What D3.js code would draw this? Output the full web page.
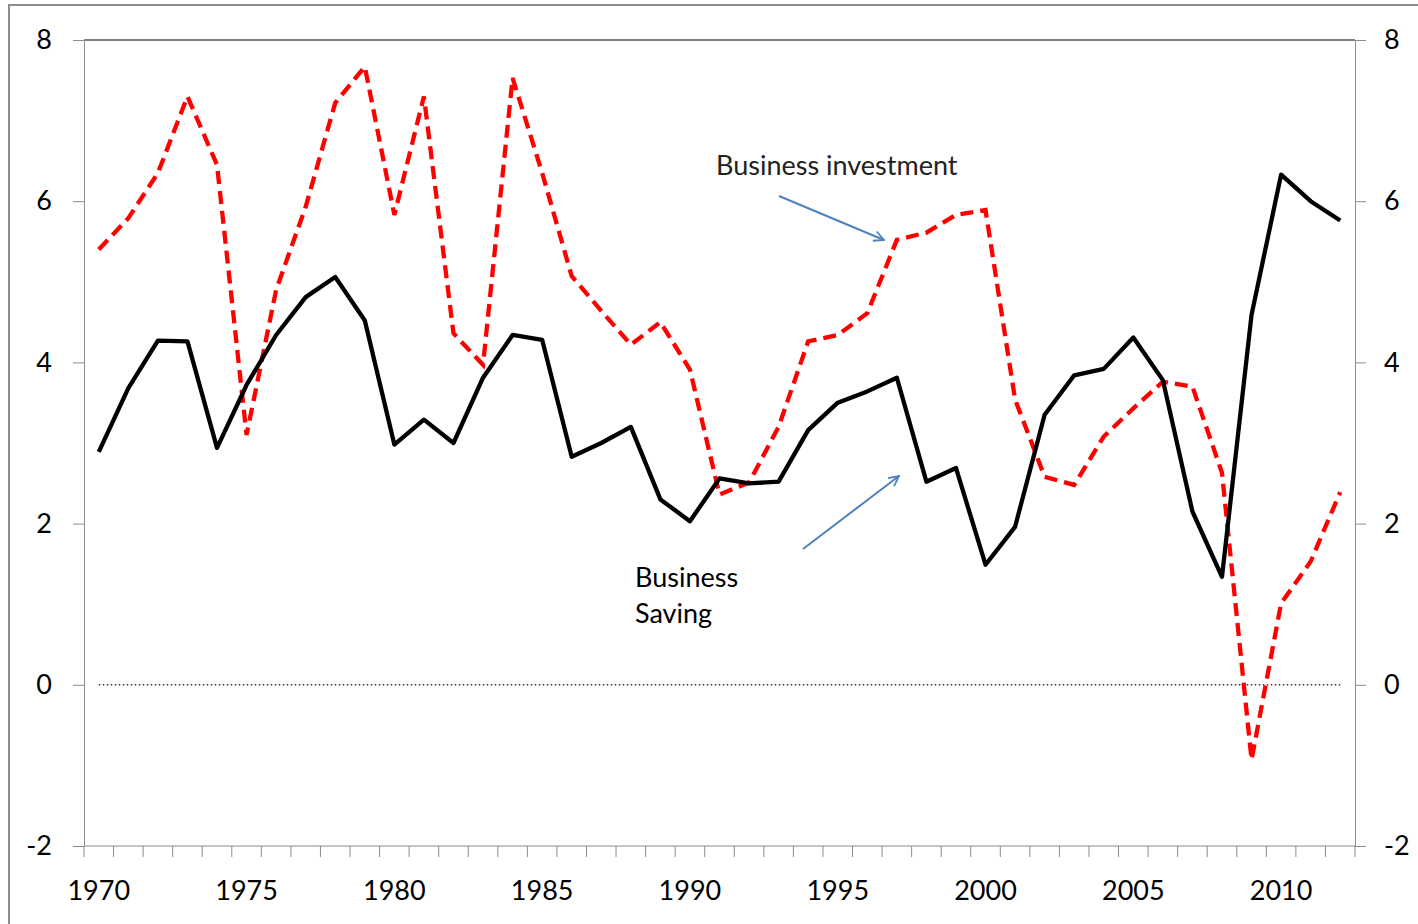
<!DOCTYPE html>
<html lang="en">
<head>
<meta charset="UTF-8">
<title>Business saving and investment</title>
<script src="https://cdn.jsdelivr.net/npm/d3@7"></script>
<style>
  body { margin: 0; background: #fff; }
  svg text { font-family: Lato, "Open Sans", sans-serif; }
</style>
</head>
<body>
<script>
    const years = d3.range(1970, 2013)
    const saving = [2.89, 3.68, 4.27, 4.26, 2.94, 3.72, 4.34, 4.81, 5.06, 4.52,
                    2.98, 3.29, 3.00, 3.81, 4.34, 4.28, 2.83, 3.00, 3.20, 2.30,
                    2.03, 2.56, 2.50, 2.52, 3.16, 3.50, 3.64, 3.81, 2.52, 2.69,
                    1.49, 1.96, 3.35, 3.84, 3.92, 4.31, 3.78, 2.15, 1.34, 4.59,
                    6.33, 6.00, 5.76]
    const investment = [5.40, 5.79, 6.35, 7.30, 6.45, 3.10, 4.90, 5.93, 7.22, 7.67,
                        5.83, 7.30, 4.36, 3.97, 7.53, 6.35, 5.07, 4.64, 4.22, 4.50,
                        3.91, 2.36, 2.51, 3.20, 4.26, 4.34, 4.61, 5.52, 5.61, 5.83,
                        5.89, 3.54, 2.58, 2.48, 3.08, 3.43, 3.76, 3.70, 2.63, -0.93,
                        1.01, 1.53, 2.39]
    const yTicks = [-2, 0, 2, 4, 6, 8]
    const xLabels = [1970, 1975, 1980, 1985, 1990, 1995, 2000, 2005, 2010]

    const width = 1418
    const height = 924
    const margin = { top: 40, right: 63, bottom: 78, left: 84 }

    const svg = d3.select('body').append('svg')
        .attr('width', width)
        .attr('height', height)

    // outer chart frame
    svg.append('rect')
        .attr('x', 9).attr('y', 5)
        .attr('width', width + 20).attr('height', height + 20)
        .attr('fill', 'none')
        .attr('stroke', '#8c8c8c')
        .attr('stroke-width', 2)

    const x = d3.scaleBand()
        .domain(years)
        .range([margin.left, width - margin.right])

    const y = d3.scaleLinear()
        .domain([-2, 8])
        .range([height - margin.bottom, margin.top])

    const cx = (d) => x(d) + x.bandwidth() / 2
    const left = margin.left
    const right = width - margin.right
    const bottom = height - margin.bottom

    // top border of plot area
    svg.append('line')
        .attr('x1', left).attr('x2', right)
        .attr('y1', margin.top).attr('y2', margin.top)
        .attr('stroke', '#000')
        .attr('stroke-width', 1.2)

    // plain hyphen for negatives, like the original
    const fmt = (d) => String(d)
    const yLeft = d3.axisLeft(y).tickValues(yTicks).tickFormat(fmt).tickSize(11).tickPadding(21)
    const yRight = d3.axisRight(y).tickValues(yTicks).tickFormat(fmt).tickSize(11).tickPadding(22)

    svg.append('g')
        .attr('transform', `translate(${left},0)`)
        .call(yLeft)
        .call(g => g.selectAll('text').attr('font-size', 27).attr('fill', '#000'))

    svg.append('g')
        .attr('transform', `translate(${right},0)`)
        .call(yRight)
        .call(g => g.selectAll('text').attr('font-size', 27).attr('fill', '#000').attr('dx', -4))

    // category axis: ticks on category boundaries
    const xAxis = svg.append('g')
    xAxis.append('line')
        .attr('x1', left).attr('x2', right)
        .attr('y1', bottom).attr('y2', bottom)
        .attr('stroke', '#8c8c8c')
    xAxis.selectAll('.xt')
        .data(years.concat([2013]))
        .enter()
        .append('line')
        .attr('class', 'xt')
        .attr('x1', (d) => d === 2013 ? right : x(d))
        .attr('x2', (d) => d === 2013 ? right : x(d))
        .attr('y1', bottom).attr('y2', bottom + 11)
        .attr('stroke', '#8c8c8c')
    xAxis.selectAll('.xl')
        .data(xLabels)
        .enter()
        .append('text')
        .attr('class', 'xl')
        .attr('x', (d) => cx(d))
        .attr('y', bottom + 54)
        .attr('text-anchor', 'middle')
        .attr('font-size', 27)
        .text((d) => d)

    svg.selectAll('.domain').attr('stroke', '#8c8c8c')
    svg.selectAll('.tick line').attr('stroke', '#8c8c8c')

    // zero line
    svg.append('line')
        .attr('x1', cx(1970)).attr('x2', cx(2012))
        .attr('y1', y(0)).attr('y2', y(0))
        .attr('stroke', '#333')
        .attr('stroke-width', 1.5)
        .attr('stroke-dasharray', '1.5,2.5')

    const line = d3.line().x((d, i) => cx(years[i])).y((d) => y(d))

    svg.append('path')
        .datum(investment)
        .attr('d', line)
        .attr('fill', 'none')
        .attr('stroke', '#ff0000')
        .attr('stroke-width', 4.3)
        .attr('stroke-dasharray', '13,7')

    svg.append('path')
        .datum(saving)
        .attr('d', line)
        .attr('fill', 'none')
        .attr('stroke', '#000')
        .attr('stroke-width', 4.3)
        .attr('stroke-linejoin', 'round')

    // annotations
    svg.append('defs').append('marker')
        .attr('id', 'head')
        .attr('viewBox', '0 0 12 12')
        .attr('refX', 11).attr('refY', 6)
        .attr('markerWidth', 12).attr('markerHeight', 12)
        .attr('markerUnits', 'userSpaceOnUse')
        .attr('orient', 'auto')
        .append('path')
        .attr('d', 'M1,1 L11,6 L1,11')
        .attr('fill', 'none')
        .attr('stroke', '#4f81bd')
        .attr('stroke-width', 1.8)

    const arrows = [
        { x1: 779, y1: 196, x2: 884, y2: 240 },
        { x1: 803, y1: 549, x2: 899, y2: 476 }
    ]
    svg.selectAll('.arrow')
        .data(arrows)
        .enter()
        .append('line')
        .attr('class', 'arrow')
        .attr('x1', (d) => d.x1).attr('y1', (d) => d.y1)
        .attr('x2', (d) => d.x2).attr('y2', (d) => d.y2)
        .attr('stroke', '#4f81bd')
        .attr('stroke-width', 2)
        .attr('marker-end', 'url(#head)')

    svg.append('text')
        .attr('x', 716).attr('y', 175)
        .attr('font-size', 27)
        .attr('fill', '#222')
        .text('Business investment')

    svg.append('text')
        .attr('x', 635).attr('y', 587)
        .attr('font-size', 27)
        .text('Business')
    svg.append('text')
        .attr('x', 635).attr('y', 623)
        .attr('font-size', 27)
        .text('Saving')
</script>
</body>
</html>
